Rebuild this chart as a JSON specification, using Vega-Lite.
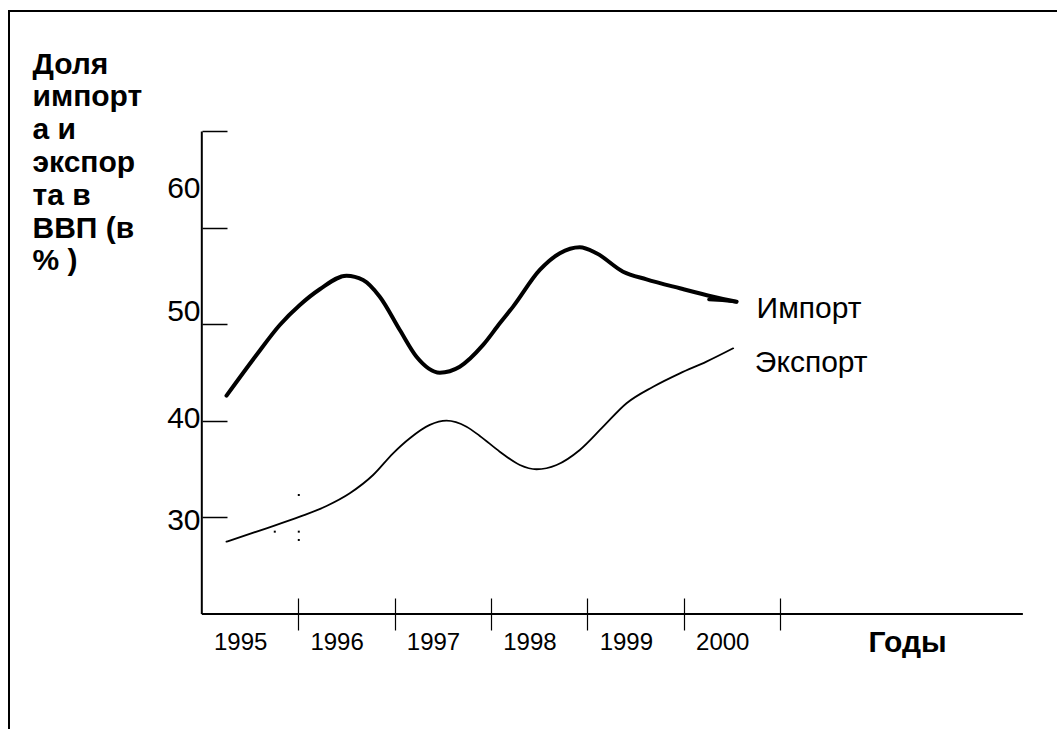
{
  "$schema": "https://vega.github.io/schema/vega-lite/v6.json",
  "width": 1048,
  "height": 719,
  "autosize": {"type": "none"},
  "padding": {"left": 9, "top": 10, "right": 0, "bottom": 0},
  "background": "white",
  "config": {
    "view": {"stroke": null},
    "axis": {"grid": false, "domain": false, "labelFont": "Liberation Sans", "titleFont": "Liberation Sans", "labelColor": "black", "titleColor": "black", "tickColor": "black", "labelFlush": false, "labelOverlap": false}
  },
  "datasets": {
    "curves": [
      {"s": "Импорт", "x": 0.256, "v": 42.62},
      {"s": "Импорт", "x": 0.567, "v": 46.84},
      {"s": "Импорт", "x": 0.809, "v": 49.95},
      {"s": "Импорт", "x": 1.017, "v": 52.02},
      {"s": "Импорт", "x": 1.224, "v": 53.65},
      {"s": "Импорт", "x": 1.501, "v": 55.06},
      {"s": "Импорт", "x": 1.673, "v": 54.61},
      {"s": "Импорт", "x": 1.846, "v": 52.88},
      {"s": "Импорт", "x": 2.054, "v": 49.43},
      {"s": "Импорт", "x": 2.227, "v": 46.66},
      {"s": "Импорт", "x": 2.469, "v": 45.01},
      {"s": "Импорт", "x": 2.676, "v": 45.63},
      {"s": "Импорт", "x": 2.918, "v": 47.88},
      {"s": "Импорт", "x": 3.091, "v": 50.12},
      {"s": "Импорт", "x": 3.229, "v": 51.85},
      {"s": "Импорт", "x": 3.506, "v": 55.65},
      {"s": "Импорт", "x": 3.714, "v": 57.38},
      {"s": "Импорт", "x": 3.921, "v": 58.0},
      {"s": "Импорт", "x": 4.094, "v": 57.38},
      {"s": "Импорт", "x": 4.37, "v": 55.47},
      {"s": "Импорт", "x": 4.613, "v": 54.68},
      {"s": "Импорт", "x": 4.959, "v": 53.75},
      {"s": "Импорт", "x": 5.304, "v": 52.88},
      {"s": "Импорт", "x": 5.547, "v": 52.36},
      {"s": "Экспорт", "x": 0.256, "v": 27.49},
      {"s": "Экспорт", "x": 0.671, "v": 28.88},
      {"s": "Экспорт", "x": 1.017, "v": 30.08},
      {"s": "Экспорт", "x": 1.294, "v": 31.19},
      {"s": "Экспорт", "x": 1.535, "v": 32.51},
      {"s": "Экспорт", "x": 1.777, "v": 34.4},
      {"s": "Экспорт", "x": 1.984, "v": 36.65},
      {"s": "Экспорт", "x": 2.158, "v": 38.21},
      {"s": "Экспорт", "x": 2.365, "v": 39.59},
      {"s": "Экспорт", "x": 2.538, "v": 40.03},
      {"s": "Экспорт", "x": 2.746, "v": 39.41},
      {"s": "Экспорт", "x": 2.884, "v": 38.45},
      {"s": "Экспорт", "x": 3.091, "v": 36.82},
      {"s": "Экспорт", "x": 3.299, "v": 35.44},
      {"s": "Экспорт", "x": 3.472, "v": 35.0},
      {"s": "Экспорт", "x": 3.68, "v": 35.44},
      {"s": "Экспорт", "x": 3.921, "v": 37.0},
      {"s": "Экспорт", "x": 4.163, "v": 39.41},
      {"s": "Экспорт", "x": 4.406, "v": 41.84},
      {"s": "Экспорт", "x": 4.682, "v": 43.55},
      {"s": "Экспорт", "x": 4.959, "v": 44.94},
      {"s": "Экспорт", "x": 5.235, "v": 46.15},
      {"s": "Экспорт", "x": 5.512, "v": 47.53}
    ],
    "hook": [
      {"x": 5.547, "v": 52.36},
      {"x": 5.4, "v": 52.5},
      {"x": 5.26, "v": 52.6}
    ],
    "dots": [
      {"x": 1.006, "v": 32.33},
      {"x": 0.757, "v": 28.53},
      {"x": 1.006, "v": 28.53},
      {"x": 1.006, "v": 27.67}
    ],
    "labels": [
      {"name": "Импорт", "x": 5.755, "v": 50.64},
      {"name": "Экспорт", "x": 5.737, "v": 45.11}
    ]
  },
  "layer": [
    {
      "data": {"name": "curves"},
      "mark": {"type": "line", "interpolate": "monotone", "color": "black", "strokeCap": "round", "strokeJoin": "round"},
      "encoding": {
        "x": {
          "field": "x", "type": "quantitative",
          "scale": {"domain": [-2.0, 8.871], "nice": false, "zero": false},
          "axis": {
            "values": [1, 2, 3, 4, 5, 6],
            "labelExpr": "'' + (1994 + datum.value)",
            "offset": -131,
            "tickSize": 32,
            "tickWidth": 1.2,
            "labelOffset": -58,
            "labelPadding": 0,
            "labelBaseline": "top",
            "labelFontSize": 24,
            "title": "Годы",
            "titleFontSize": 30,
            "titleFontWeight": "bold",
            "titleX": 898,
            "titleY": 29,
            "titleAlign": "center",
            "titleBaseline": "top"
          }
        },
        "y": {
          "field": "v", "type": "quantitative",
          "scale": {"domain": [8.08, 82.59], "nice": false, "zero": false},
          "axis": {
            "values": [30, 40, 50, 60, 70],
            "labelExpr": "datum.value == 70 ? '' : datum.label",
            "offset": -193,
            "tickSize": -25,
            "tickWidth": 1.5,
            "labelPadding": 27,
            "labelFontSize": 30,
            "labelOffset": {"condition": [{"test": "datum.value == 60", "value": -39}, {"test": "datum.value == 50", "value": -13}, {"test": "datum.value == 40", "value": -2}], "value": 3},
            "title": ["Доля", "импорт", "а и", "экспор", "та в", "ВВП (в", "% )"],
            "titleAngle": 0,
            "titleAlign": "left",
            "titleBaseline": "alphabetic",
            "titleX": -170,
            "titleY": 63,
            "titleFontSize": 30,
            "titleFontWeight": "bold",
            "titleLineHeight": 32.8
          }
        },
        "detail": {"field": "s", "type": "nominal"},
        "strokeWidth": {"field": "s", "type": "nominal", "scale": {"domain": ["Импорт", "Экспорт"], "range": [4, 1.8]}, "legend": null}
      }
    },
    {
      "data": {"name": "hook"},
      "mark": {"type": "line", "color": "black", "strokeWidth": 3.5, "strokeCap": "round"},
      "encoding": {
        "x": {"field": "x", "type": "quantitative", "scale": {"domain": [-2.0, 8.871], "nice": false, "zero": false}},
        "y": {"field": "v", "type": "quantitative", "scale": {"domain": [8.08, 82.59], "nice": false, "zero": false}}
      }
    },
    {
      "data": {"values": [{}]},
      "mark": {"type": "rule", "color": "black", "strokeWidth": 2},
      "encoding": {"y": {"datum": 82.49, "type": "quantitative"}}
    },
    {
      "data": {"values": [{}]},
      "mark": {"type": "rule", "color": "black", "strokeWidth": 2},
      "encoding": {"x": {"datum": -2.0, "type": "quantitative"}}
    },
    {
      "data": {"values": [{}]},
      "mark": {"type": "rule", "color": "black", "strokeWidth": 2},
      "encoding": {"x": {"datum": 0, "type": "quantitative"}, "x2": {"datum": 8.517}, "y": {"datum": 20, "type": "quantitative"}}
    },
    {
      "data": {"values": [{}]},
      "mark": {"type": "rule", "color": "black", "strokeWidth": 2},
      "encoding": {"x": {"datum": 0, "type": "quantitative"}, "y": {"datum": 20, "type": "quantitative"}, "y2": {"datum": 70}}
    },
    {
      "data": {"name": "dots"},
      "mark": {"type": "square", "color": "black", "filled": true, "size": 4, "opacity": 1},
      "encoding": {
        "x": {"field": "x", "type": "quantitative"},
        "y": {"field": "v", "type": "quantitative"}
      }
    },
    {
      "data": {"name": "labels"},
      "mark": {"type": "text", "align": "left", "baseline": "alphabetic", "font": "Liberation Sans", "fontSize": 30, "color": "black"},
      "encoding": {
        "x": {"field": "x", "type": "quantitative"},
        "y": {"field": "v", "type": "quantitative"},
        "text": {"field": "name", "type": "nominal"}
      }
    }
  ]
}
